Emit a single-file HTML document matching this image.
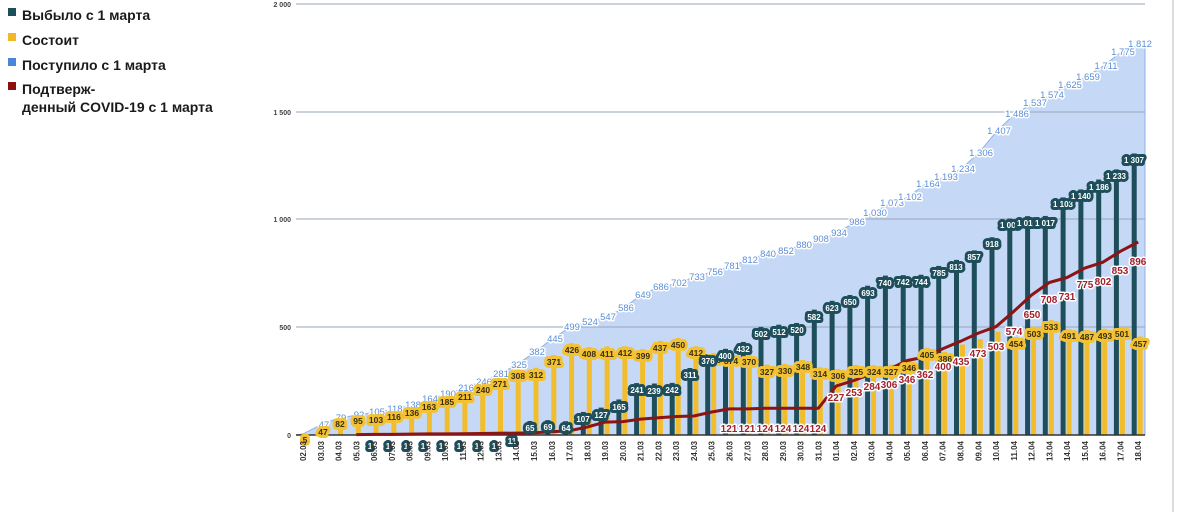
<!DOCTYPE html>
<html><head><meta charset="utf-8"><style>
html,body{margin:0;padding:0;background:#fff;}
svg{display:block;font-family:"Liberation Sans",sans-serif;}
.lg{font-size:14px;font-weight:bold;fill:#1a1a1a;}
.yt{font-size:7px;font-weight:bold;fill:#444;text-anchor:end;}
.dt{font-size:8px;font-weight:bold;fill:#333;text-anchor:end;}
.bl{font-size:9.5px;fill:#5b8ed6;text-anchor:middle;stroke:#fff;stroke-width:3;paint-order:stroke;stroke-linejoin:round;}
.tl{font-size:8px;font-weight:bold;fill:#fff;text-anchor:middle;stroke:#1d4e5a;stroke-width:6;paint-order:stroke;stroke-linejoin:round;}
.yl{font-size:8.5px;font-weight:bold;fill:#3a2e10;text-anchor:middle;stroke:#f3c233;stroke-width:6;paint-order:stroke;stroke-linejoin:round;}
.rl{font-size:10px;font-weight:bold;fill:#a3202c;text-anchor:middle;stroke:#fff;stroke-width:3;paint-order:stroke;stroke-linejoin:round;}
</style></head><body>
<svg width="1183" height="512" viewBox="0 0 1183 512" xmlns="http://www.w3.org/2000/svg">
<rect x="8" y="8" width="8" height="8" fill="#1d4e5a"/><text class="lg" x="22" y="20">Выбыло с 1 марта</text>
<rect x="8" y="33" width="8" height="8" fill="#f2b828"/><text class="lg" x="22" y="45">Состоит</text>
<rect x="8" y="58" width="8" height="8" fill="#4a86d8"/><text class="lg" x="22" y="70">Поступило с 1 марта</text>
<rect x="8" y="82" width="8" height="8" fill="#8b1010"/><text class="lg" x="22" y="94">Подтверж-</text>
<text class="lg" x="22" y="112">денный COVID-19 с 1 марта</text>

<line x1="1173" y1="0" x2="1173" y2="512" stroke="#bbb" stroke-width="1"/>
<g transform="translate(0,435) scale(1,-0.2154)">
<polygon fill="#c5d8f6" stroke="#8fb0e6" stroke-width="1" vector-effect="non-scaling-stroke" points="296,0 303,5 320.8,47 338.5,79 356.3,92 374.1,105 391.9,118 409.6,138 427.4,164 445.2,190 462.9,216 480.7,246 498.5,281 516.2,325 534,382 551.8,445 569.6,499 587.3,524 605.1,547 622.9,586 640.6,649 658.4,686 676.2,702 693.9,733 711.7,756 729.5,781 747.3,812 765,840 782.8,852 800.6,880 818.3,908 836.1,934 853.9,986 871.6,1030 889.4,1073 907.2,1102 925,1164 942.7,1193 960.5,1234 978.3,1306 996,1407 1013.8,1486 1031.6,1537 1049.3,1574 1067.1,1625 1084.9,1659 1102.7,1711 1120.4,1775 1138.2,1812 1145,1812 1145,0"/>
</g>
<g stroke="#9aa6bb" stroke-width="1">
<line x1="296" y1="4" x2="1145" y2="4"/><line x1="296" y1="112" x2="1145" y2="112"/><line x1="296" y1="219" x2="1145" y2="219"/><line x1="296" y1="327" x2="1145" y2="327"/>
</g>
<g class="yt"><text x="291" y="7">2 000</text><text x="291" y="115">1 500</text><text x="291" y="222">1 000</text><text x="291" y="330">500</text><text x="291" y="438">0</text></g>
<g transform="translate(0,435) scale(1,-0.2154)">
<g fill="#1d4e5a">
<rect x="527.5" y="0" width="5" height="65"/><rect x="545.3" y="0" width="5" height="69"/><rect x="563.1" y="0" width="5" height="64"/><rect x="580.8" y="0" width="5" height="107"/><rect x="598.6" y="0" width="5" height="127"/><rect x="616.4" y="0" width="5" height="165"/><rect x="634.1" y="0" width="5" height="241"/><rect x="651.9" y="0" width="5" height="239"/><rect x="669.7" y="0" width="5" height="242"/><rect x="687.4" y="0" width="5" height="311"/><rect x="705.2" y="0" width="5" height="376"/><rect x="723" y="0" width="5" height="400"/><rect x="740.8" y="0" width="5" height="432"/><rect x="758.5" y="0" width="5" height="502"/><rect x="776.3" y="0" width="5" height="512"/><rect x="794.1" y="0" width="5" height="520"/><rect x="811.8" y="0" width="5" height="582"/>
<rect x="829.6" y="0" width="5" height="623"/><rect x="847.4" y="0" width="5" height="650"/><rect x="865.1" y="0" width="5" height="693"/><rect x="882.9" y="0" width="5" height="740"/><rect x="900.7" y="0" width="5" height="742"/><rect x="918.5" y="0" width="5" height="744"/><rect x="936.2" y="0" width="5" height="785"/><rect x="954" y="0" width="5" height="813"/><rect x="971.8" y="0" width="5" height="857"/><rect x="989.5" y="0" width="5" height="918"/><rect x="1007.3" y="0" width="5" height="1005"/><rect x="1025.1" y="0" width="5" height="1016"/><rect x="1042.8" y="0" width="5" height="1017"/><rect x="1060.6" y="0" width="5" height="1103"/><rect x="1078.4" y="0" width="5" height="1140"/><rect x="1096.2" y="0" width="5" height="1186"/><rect x="1113.9" y="0" width="5" height="1233"/><rect x="1131.7" y="0" width="5" height="1307"/>
</g>
<g fill="#f2bd2c">
<rect x="320.3" y="0" width="5" height="47"/><rect x="338" y="0" width="5" height="82"/><rect x="355.8" y="0" width="5" height="95"/><rect x="373.6" y="0" width="5" height="103"/><rect x="391.4" y="0" width="5" height="116"/><rect x="409.1" y="0" width="5" height="136"/><rect x="426.9" y="0" width="5" height="163"/><rect x="444.7" y="0" width="5" height="185"/><rect x="462.4" y="0" width="5" height="211"/><rect x="480.2" y="0" width="5" height="240"/><rect x="498" y="0" width="5" height="271"/><rect x="515.7" y="0" width="5" height="308"/><rect x="533.5" y="0" width="5" height="312"/><rect x="551.3" y="0" width="5" height="371"/><rect x="569.1" y="0" width="5" height="426"/><rect x="586.8" y="0" width="5" height="408"/><rect x="604.6" y="0" width="5" height="411"/><rect x="622.4" y="0" width="5" height="412"/><rect x="640.1" y="0" width="5" height="399"/><rect x="657.9" y="0" width="5" height="437"/><rect x="675.7" y="0" width="5" height="450"/><rect x="693.4" y="0" width="5" height="412"/><rect x="711.2" y="0" width="5" height="380"/><rect x="729" y="0" width="5" height="374"/><rect x="746.8" y="0" width="5" height="370"/><rect x="764.5" y="0" width="5" height="327"/><rect x="782.3" y="0" width="5" height="330"/><rect x="800.1" y="0" width="5" height="348"/><rect x="817.8" y="0" width="5" height="314"/>
<rect x="835.6" y="0" width="5" height="306"/><rect x="853.4" y="0" width="5" height="325"/><rect x="871.1" y="0" width="5" height="324"/><rect x="888.9" y="0" width="5" height="327"/><rect x="906.7" y="0" width="5" height="346"/><rect x="924.5" y="0" width="5" height="405"/><rect x="942.2" y="0" width="5" height="386"/><rect x="960" y="0" width="5" height="420"/><rect x="977.8" y="0" width="5" height="445"/><rect x="995.5" y="0" width="5" height="480"/><rect x="1013.3" y="0" width="5" height="454"/><rect x="1031.1" y="0" width="5" height="503"/><rect x="1048.8" y="0" width="5" height="533"/><rect x="1066.6" y="0" width="5" height="491"/><rect x="1084.4" y="0" width="5" height="487"/><rect x="1102.2" y="0" width="5" height="493"/><rect x="1119.9" y="0" width="5" height="501"/><rect x="1137.7" y="0" width="5" height="457"/>
</g>
</g>
<line x1="296" y1="435" x2="1145" y2="435" stroke="#333" stroke-width="1.5"/>
<polyline fill="none" stroke="#8b1414" stroke-width="3" stroke-linejoin="round" points="356.3,434.6 374.1,434.4 391.9,434.4 409.6,434.1 427.4,433.9 445.2,433.9 462.9,433.7 480.7,433.5 498.5,433.3 516.2,433.1 534,432.8 551.8,431.8 569.6,430.7 587.3,427 605.1,422.1 622.9,421.6 640.6,419.1 658.4,417.8 676.2,416.5 693.9,416 711.7,412 729.5,408.9 747.3,408.9 765,408.3 782.8,408.3 800.6,408.3 818.3,408.3 836.1,386.1 853.9,380.5 871.6,373.8 889.4,369.1 907.2,360.5 925,357 942.7,348.8 960.5,341.3 978.3,333.1 996,326.7 1013.8,311.4 1031.6,295 1049.3,282.5 1067.1,277.5 1084.9,268.1 1102.7,262.3 1120.4,251.3 1138.2,242"/>
<g class="bl">
<text x="324" y="428">47</text><text x="341" y="421">79</text><text x="359" y="418">92</text><text x="377" y="415">105</text><text x="395" y="412">118</text><text x="413" y="408">138</text><text x="430" y="402">164</text><text x="448" y="397">190</text><text x="466" y="391">216</text><text x="484" y="385">246</text><text x="501" y="377">281</text><text x="519" y="368">325</text><text x="537" y="355">382</text><text x="555" y="342">445</text><text x="572" y="330">499</text><text x="590" y="325">524</text><text x="608" y="320">547</text><text x="626" y="311">586</text><text x="643" y="298">649</text><text x="661" y="290">686</text><text x="679" y="286">702</text><text x="697" y="280">733</text><text x="715" y="275">756</text><text x="732" y="269">781</text><text x="750" y="263">812</text><text x="768" y="257">840</text><text x="786" y="254">852</text><text x="804" y="248">880</text><text x="821" y="242">908</text><text x="839" y="236">934</text><text x="857" y="225">986</text><text x="875" y="216">1 030</text><text x="892" y="206">1 073</text><text x="910" y="200">1 102</text><text x="928" y="187">1 164</text><text x="946" y="180">1 193</text><text x="963" y="172">1 234</text><text x="981" y="156">1 306</text><text x="999" y="134">1 407</text><text x="1017" y="117">1 486</text><text x="1035" y="106">1 537</text><text x="1052" y="98">1 574</text><text x="1070" y="88">1 625</text><text x="1088" y="80">1 659</text><text x="1106" y="69">1 711</text><text x="1123" y="55">1 775</text><text x="1140" y="47">1 812</text>
</g>
<g class="yl">
<text x="305" y="443">5</text><text x="323" y="435">47</text><text x="340" y="427">82</text><text x="358" y="424">95</text><text x="376" y="423">103</text><text x="394" y="420">116</text><text x="412" y="416">136</text><text x="429" y="410">163</text><text x="447" y="405">185</text><text x="465" y="400">211</text><text x="483" y="393">240</text><text x="500" y="387">271</text><text x="518" y="379">308</text><text x="536" y="378">312</text><text x="554" y="365">371</text><text x="572" y="353">426</text><text x="589" y="357">408</text><text x="607" y="357">411</text><text x="625" y="356">412</text><text x="643" y="359">399</text><text x="660" y="351">437</text><text x="678" y="348">450</text><text x="696" y="356">412</text><text x="714" y="363">380</text><text x="731" y="364">374</text><text x="749" y="365">370</text><text x="767" y="375">327</text><text x="785" y="374">330</text><text x="803" y="370">348</text><text x="820" y="377">314</text><text x="838" y="379">306</text><text x="856" y="375">325</text><text x="874" y="375">324</text><text x="891" y="375">327</text><text x="909" y="371">346</text><text x="927" y="358">405</text><text x="945" y="362">386</text><text x="1016" y="347">454</text><text x="1034" y="337">503</text><text x="1051" y="330">533</text><text x="1069" y="339">491</text><text x="1087" y="340">487</text><text x="1105" y="339">493</text><text x="1122" y="337">501</text><text x="1140" y="347">457</text>
</g>
<g class="tl">
<text x="370" y="449">1</text><text x="388" y="449">1</text><text x="406" y="449">1</text><text x="423" y="449">1</text><text x="441" y="449">1</text><text x="459" y="449">1</text><text x="477" y="449">1</text><text x="494" y="449">1</text><text x="512" y="444">11</text>
<text x="530" y="431">65</text><text x="548" y="430">69</text><text x="566" y="431">64</text><text x="583" y="422">107</text><text x="601" y="418">127</text><text x="619" y="410">165</text><text x="637" y="393">241</text><text x="654" y="394">239</text><text x="672" y="393">242</text><text x="690" y="378">311</text><text x="708" y="364">376</text><text x="725" y="359">400</text><text x="743" y="352">432</text><text x="761" y="337">502</text><text x="779" y="335">512</text><text x="797" y="333">520</text><text x="814" y="320">582</text><text x="832" y="311">623</text><text x="850" y="305">650</text><text x="868" y="296">693</text><text x="885" y="286">740</text><text x="903" y="285">742</text><text x="921" y="285">744</text><text x="939" y="276">785</text><text x="956" y="270">813</text><text x="974" y="260">857</text><text x="992" y="247">918</text><text x="1010" y="228">1 005</text><text x="1027" y="226">1 016</text><text x="1045" y="226">1 017</text><text x="1063" y="207">1 103</text><text x="1081" y="199">1 140</text><text x="1099" y="190">1 186</text><text x="1116" y="179">1 233</text><text x="1134" y="163">1 307</text>
</g>
<g class="rl">
<text x="729" y="432">121</text><text x="747" y="432">121</text><text x="765" y="432">124</text><text x="783" y="432">124</text><text x="801" y="432">124</text><text x="818" y="432">124</text>
<text x="836" y="401">227</text><text x="854" y="396">253</text><text x="872" y="390">284</text><text x="889" y="388">306</text><text x="907" y="383">346</text><text x="925" y="378">362</text><text x="943" y="370">400</text><text x="961" y="365">435</text><text x="978" y="357">473</text><text x="996" y="350">503</text><text x="1014" y="335">574</text><text x="1032" y="318">650</text><text x="1049" y="303">708</text><text x="1067" y="300">731</text><text x="1085" y="288">775</text><text x="1103" y="285">802</text><text x="1120" y="274">853</text><text x="1138" y="265">896</text>
</g>
<g class="dt">
<text transform="translate(306,441) rotate(-90)">02.03</text><text transform="translate(323.8,441) rotate(-90)">03.03</text><text transform="translate(341.5,441) rotate(-90)">04.03</text><text transform="translate(359.3,441) rotate(-90)">05.03</text><text transform="translate(377.1,441) rotate(-90)">06.03</text><text transform="translate(394.9,441) rotate(-90)">07.03</text><text transform="translate(412.6,441) rotate(-90)">08.03</text><text transform="translate(430.4,441) rotate(-90)">09.03</text><text transform="translate(448.2,441) rotate(-90)">10.03</text><text transform="translate(465.9,441) rotate(-90)">11.03</text><text transform="translate(483.7,441) rotate(-90)">12.03</text><text transform="translate(501.5,441) rotate(-90)">13.03</text><text transform="translate(519.2,441) rotate(-90)">14.03</text><text transform="translate(537,441) rotate(-90)">15.03</text><text transform="translate(554.8,441) rotate(-90)">16.03</text><text transform="translate(572.6,441) rotate(-90)">17.03</text><text transform="translate(590.3,441) rotate(-90)">18.03</text><text transform="translate(608.1,441) rotate(-90)">19.03</text><text transform="translate(625.9,441) rotate(-90)">20.03</text><text transform="translate(643.6,441) rotate(-90)">21.03</text><text transform="translate(661.4,441) rotate(-90)">22.03</text><text transform="translate(679.2,441) rotate(-90)">23.03</text><text transform="translate(696.9,441) rotate(-90)">24.03</text><text transform="translate(714.7,441) rotate(-90)">25.03</text><text transform="translate(732.5,441) rotate(-90)">26.03</text><text transform="translate(750.3,441) rotate(-90)">27.03</text><text transform="translate(768,441) rotate(-90)">28.03</text><text transform="translate(785.8,441) rotate(-90)">29.03</text><text transform="translate(803.6,441) rotate(-90)">30.03</text><text transform="translate(821.3,441) rotate(-90)">31.03</text><text transform="translate(839.1,441) rotate(-90)">01.04</text><text transform="translate(856.9,441) rotate(-90)">02.04</text><text transform="translate(874.6,441) rotate(-90)">03.04</text><text transform="translate(892.4,441) rotate(-90)">04.04</text><text transform="translate(910.2,441) rotate(-90)">05.04</text><text transform="translate(928,441) rotate(-90)">06.04</text><text transform="translate(945.7,441) rotate(-90)">07.04</text><text transform="translate(963.5,441) rotate(-90)">08.04</text><text transform="translate(981.3,441) rotate(-90)">09.04</text><text transform="translate(999,441) rotate(-90)">10.04</text><text transform="translate(1016.8,441) rotate(-90)">11.04</text><text transform="translate(1034.6,441) rotate(-90)">12.04</text><text transform="translate(1052.3,441) rotate(-90)">13.04</text><text transform="translate(1070.1,441) rotate(-90)">14.04</text><text transform="translate(1087.9,441) rotate(-90)">15.04</text><text transform="translate(1105.7,441) rotate(-90)">16.04</text><text transform="translate(1123.4,441) rotate(-90)">17.04</text><text transform="translate(1141.2,441) rotate(-90)">18.04</text>
</g>
</svg>
</body></html>
